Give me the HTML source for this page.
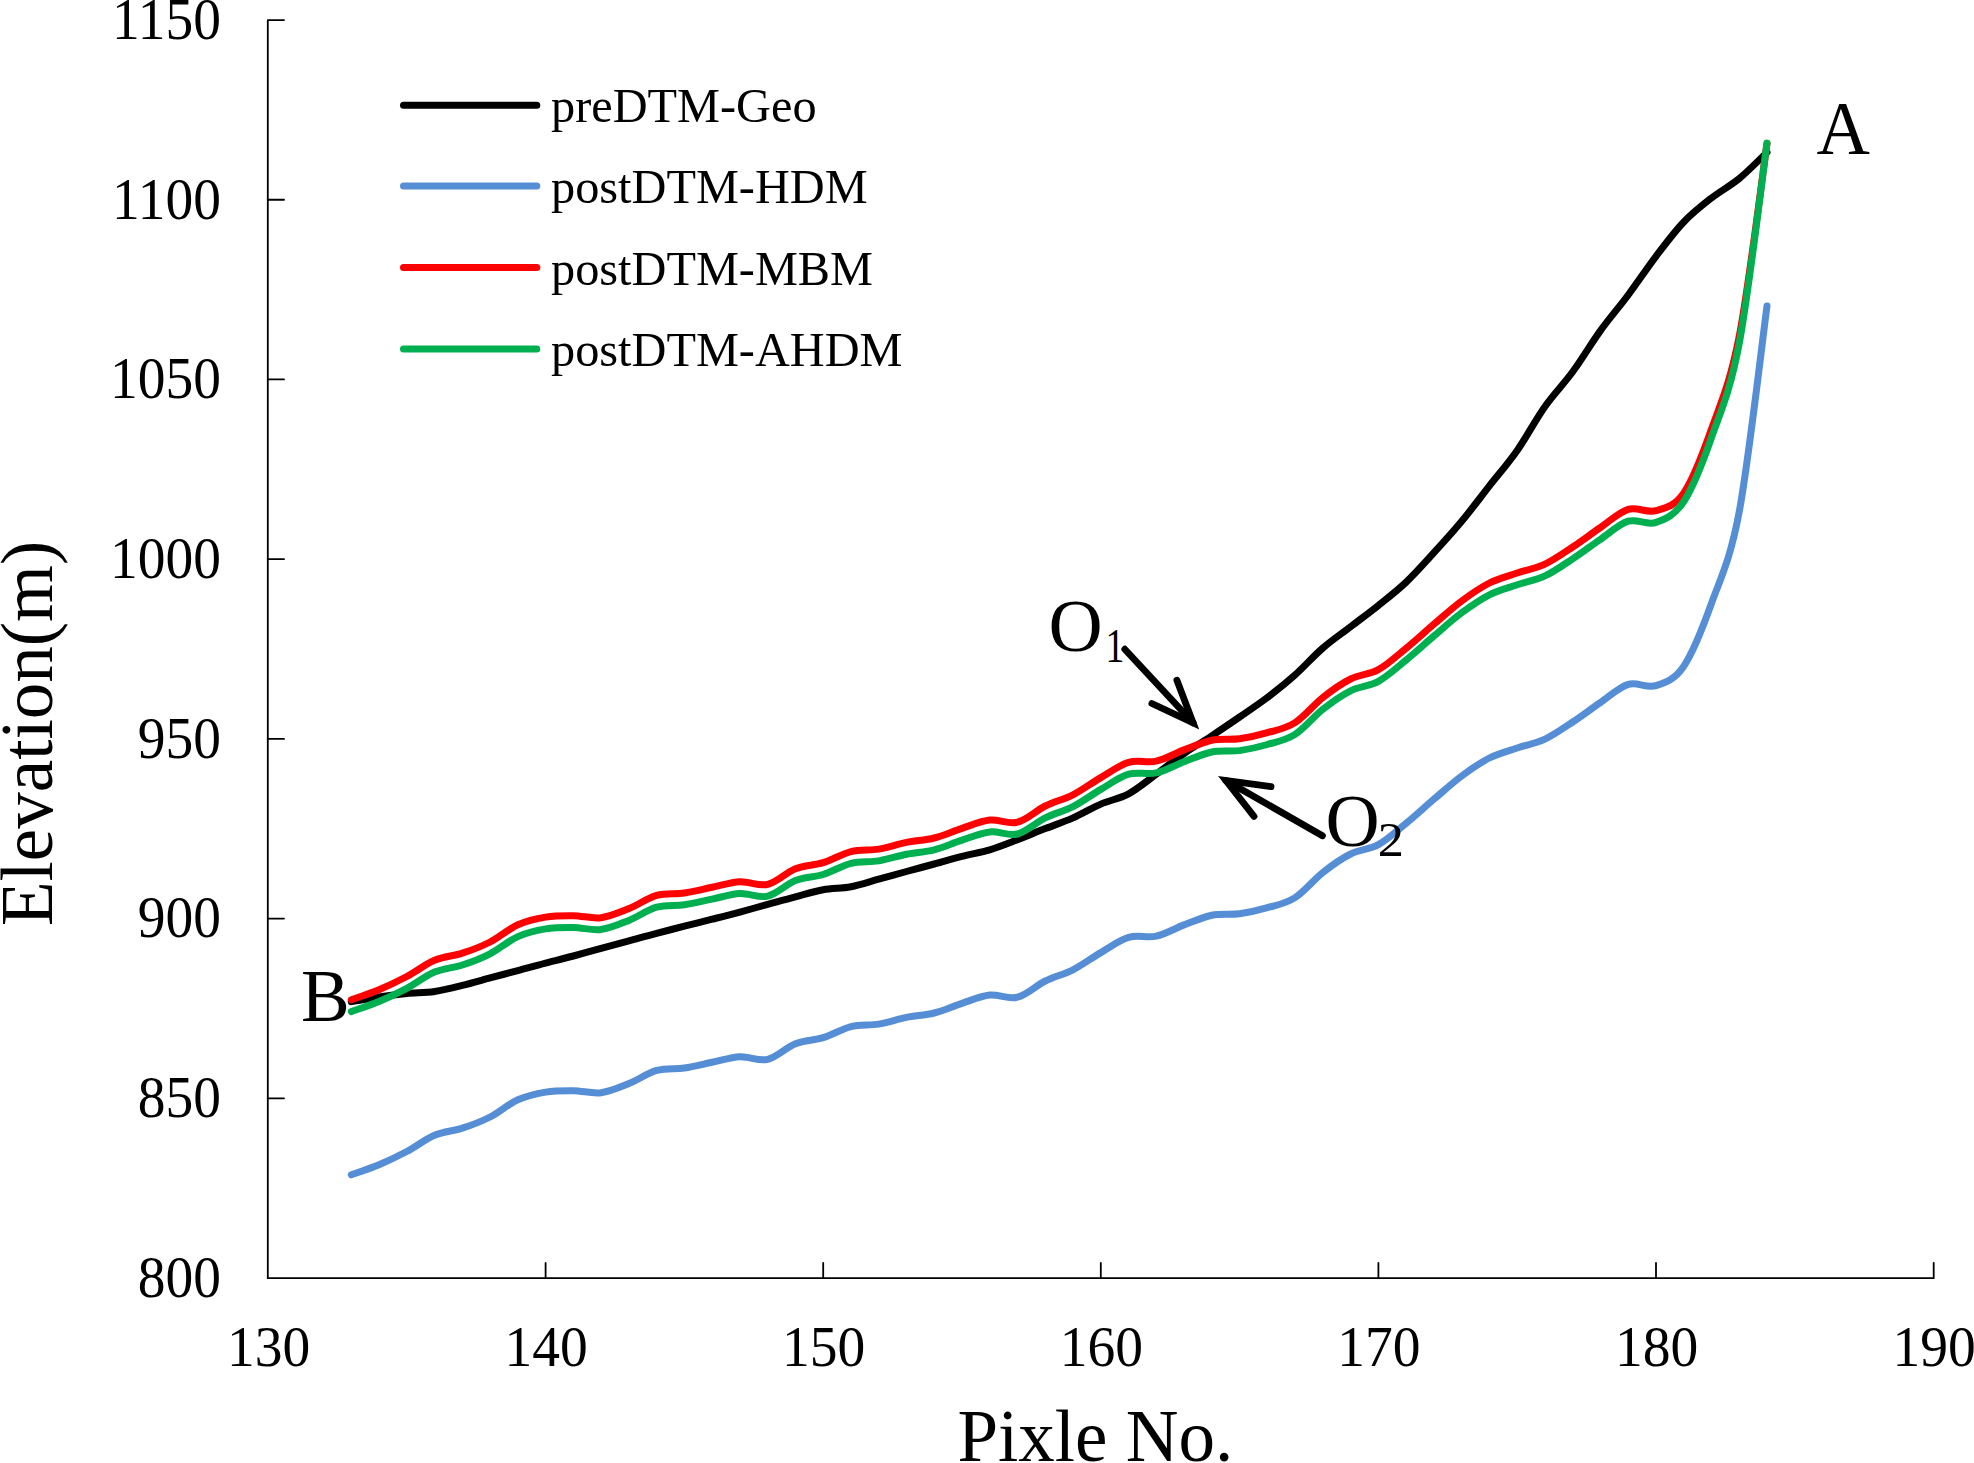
<!DOCTYPE html>
<html><head><meta charset="utf-8"><title>Elevation profile</title>
<style>
html,body{margin:0;padding:0;background:#fff}
svg{display:block}
text{font-family:"Liberation Serif",serif;fill:#000}
</style></head><body>
<svg width="1974" height="1463" viewBox="0 0 1974 1463">
<rect width="1974" height="1463" fill="#fff"/>
<g stroke="#000" stroke-width="1.8" fill="none" stroke-linejoin="round" stroke-linecap="round">
<path d="M284 20.06H267.8V1278.15H1933.7V1263"/>
<path d="M267.8 199.77H284"/>
<path d="M267.8 379.47H284"/>
<path d="M267.8 559.18H284"/>
<path d="M267.8 738.88H284"/>
<path d="M267.8 918.59H284"/>
<path d="M267.8 1098.29H284"/>
<path d="M545.6 1263V1277.6"/>
<path d="M823.2 1263V1277.6"/>
<path d="M1100.8 1263V1277.6"/>
<path d="M1378.4 1263V1277.6"/>
<path d="M1656.0 1263V1277.6"/>
</g>
<g font-size="55.5" text-anchor="end">
<text transform="translate(221,38.8) scale(1,1.055)">1150</text>
<text transform="translate(221,218.5) scale(1,1.055)">1100</text>
<text transform="translate(221,398.2) scale(1,1.055)">1050</text>
<text transform="translate(221,577.9) scale(1,1.055)">1000</text>
<text transform="translate(221,757.6) scale(1,1.055)">950</text>
<text transform="translate(221,937.3) scale(1,1.055)">900</text>
<text transform="translate(221,1117.0) scale(1,1.055)">850</text>
<text transform="translate(221,1296.7) scale(1,1.055)">800</text>
</g>
<g font-size="55.5" text-anchor="middle">
<text transform="translate(268.5,1366.2) scale(1,1.04)">130</text>
<text transform="translate(546.1,1366.2) scale(1,1.04)">140</text>
<text transform="translate(823.7,1366.2) scale(1,1.04)">150</text>
<text transform="translate(1101.3,1366.2) scale(1,1.04)">160</text>
<text transform="translate(1378.9,1366.2) scale(1,1.04)">170</text>
<text transform="translate(1656.5,1366.2) scale(1,1.04)">180</text>
<text transform="translate(1934.1,1366.2) scale(1,1.04)">190</text>
</g>
<text x="1095.3" y="1460.6" font-size="73" text-anchor="middle">Pixle No.</text>
<text transform="translate(52,733.4) rotate(-90) scale(0.987,1)" font-size="74" text-anchor="middle">Elevation(m)</text>
<g stroke-width="7" stroke-linecap="round" fill="none">
<path d="M403.5 105.2H536.8" stroke="#000"/>
<path d="M403.5 186.1H536.8" stroke="#558ED5"/>
<path d="M403.5 267.4H536.8" stroke="#FF0000"/>
<path d="M403.5 349.1H536.8" stroke="#00B050"/>
</g>
<g font-size="48.3">
<text x="551" y="121.8">preDTM-Geo</text>
<text x="551" y="203.3">postDTM-HDM</text>
<text x="551" y="284.7">postDTM-MBM</text>
<text x="551" y="366.4">postDTM-AHDM</text>
</g>
<g stroke-width="7" stroke-linecap="round" stroke-linejoin="round" fill="none">
<path d="M351.3 1001.6C355.9 1000.8 369.8 998.4 379.0 997.0C388.3 995.6 397.5 994.4 406.8 993.5C416.1 992.6 425.3 992.9 434.6 991.5C443.8 990.1 453.1 987.7 462.3 985.4C471.6 983.1 480.8 980.4 490.1 977.9C499.3 975.4 508.6 973.1 517.8 970.6C527.1 968.1 536.3 965.5 545.6 963.1C554.9 960.7 564.1 958.5 573.4 956.0C582.6 953.5 591.9 950.8 601.1 948.3C610.4 945.8 619.6 943.3 628.9 940.8C638.1 938.3 647.4 935.7 656.6 933.3C665.9 930.9 675.1 928.6 684.4 926.2C693.7 923.9 702.9 921.6 712.2 919.2C721.4 916.9 730.7 914.6 739.9 912.1C749.2 909.6 758.4 906.9 767.7 904.4C776.9 901.9 786.2 899.3 795.4 896.9C804.7 894.5 813.9 891.5 823.2 889.8C832.5 888.1 841.7 888.5 851.0 886.7C860.2 884.9 869.5 881.7 878.7 879.2C888.0 876.7 897.2 874.0 906.5 871.5C915.7 869.0 925.0 866.5 934.2 864.0C943.5 861.5 952.7 858.6 962.0 856.3C971.3 853.9 980.5 852.6 989.8 849.9C999.0 847.1 1008.3 843.3 1017.5 839.8C1026.8 836.2 1036.0 832.2 1045.3 828.6C1054.5 825.0 1063.8 822.0 1073.0 817.9C1082.3 813.8 1091.5 808.1 1100.8 804.1C1110.1 800.1 1119.3 798.8 1128.6 793.8C1137.8 788.8 1147.1 780.9 1156.3 774.2C1165.6 767.5 1174.8 759.9 1184.1 753.5C1193.3 747.1 1202.6 741.9 1211.8 735.8C1221.1 729.7 1230.3 723.4 1239.6 717.0C1248.9 710.6 1258.1 704.5 1267.4 697.5C1276.6 690.5 1285.9 683.1 1295.1 674.9C1304.4 666.6 1313.6 656.0 1322.9 648.0C1332.1 640.0 1341.4 633.8 1350.6 626.7C1359.9 619.6 1369.1 612.8 1378.4 605.4C1387.7 598.0 1396.9 590.9 1406.2 582.1C1415.4 573.3 1424.7 562.8 1433.9 552.7C1443.2 542.6 1452.4 532.4 1461.7 521.3C1470.9 510.2 1480.2 497.7 1489.4 485.9C1498.7 474.1 1507.9 463.6 1517.2 450.4C1526.5 437.2 1535.7 419.6 1545.0 406.5C1554.2 393.4 1563.5 384.4 1572.7 371.8C1582.0 359.2 1591.2 343.4 1600.5 330.6C1609.7 317.8 1619.0 307.4 1628.2 295.0C1637.5 282.6 1646.7 268.5 1656.0 256.3C1665.3 244.1 1674.5 231.7 1683.8 222.0C1693.0 212.3 1702.3 205.2 1711.5 198.0C1720.8 190.8 1730.0 186.1 1739.3 178.5C1748.5 170.9 1762.4 156.7 1767.0 152.3" stroke="#000"/>
<path d="M351.3 1174.8C355.9 1173.1 369.8 1168.6 379.0 1164.7C388.3 1160.8 397.5 1156.4 406.8 1151.5C416.1 1146.6 425.3 1139.2 434.6 1135.3C443.8 1131.4 453.1 1131.2 462.3 1128.2C471.6 1125.2 480.8 1121.7 490.1 1117.0C499.3 1112.3 508.6 1104.0 517.8 1099.8C527.1 1095.6 536.3 1093.6 545.6 1092.1C554.9 1090.6 564.1 1090.6 573.4 1090.7C582.6 1090.8 591.9 1093.9 601.1 1092.7C610.4 1091.5 619.6 1087.3 628.9 1083.6C638.1 1079.9 647.4 1073.0 656.6 1070.4C665.9 1067.8 675.1 1069.3 684.4 1068.0C693.7 1066.7 702.9 1064.2 712.2 1062.3C721.4 1060.4 730.7 1057.2 739.9 1056.7C749.2 1056.2 758.4 1061.6 767.7 1059.4C776.9 1057.2 786.2 1047.4 795.4 1043.8C804.7 1040.2 813.9 1040.6 823.2 1037.7C832.5 1034.8 841.7 1028.9 851.0 1026.6C860.2 1024.3 869.5 1025.6 878.7 1024.1C888.0 1022.6 897.2 1019.2 906.5 1017.4C915.7 1015.5 925.0 1015.4 934.2 1013.0C943.5 1010.6 952.7 1006.3 962.0 1003.3C971.3 1000.3 980.5 996.1 989.8 995.1C999.0 994.1 1008.3 999.6 1017.5 997.2C1026.8 994.9 1036.0 985.6 1045.3 981.0C1054.5 976.4 1063.8 974.5 1073.0 969.8C1082.3 965.1 1091.5 958.0 1100.8 952.6C1110.1 947.2 1119.3 940.1 1128.6 937.4C1137.8 934.6 1147.1 938.2 1156.3 936.1C1165.6 934.0 1174.8 928.4 1184.1 924.9C1193.3 921.4 1202.6 917.1 1211.8 915.2C1221.1 913.4 1230.3 915.0 1239.6 913.8C1248.9 912.5 1258.1 910.4 1267.4 907.7C1276.6 905.0 1285.9 903.5 1295.1 897.6C1304.4 891.7 1313.6 879.8 1322.9 872.5C1332.1 865.2 1341.4 858.6 1350.6 854.0C1359.9 849.4 1369.1 849.7 1378.4 844.6C1387.7 839.5 1396.9 830.8 1406.2 823.2C1415.4 815.6 1424.7 807.1 1433.9 799.2C1443.2 791.3 1452.4 782.9 1461.7 776.0C1470.9 769.1 1480.2 762.7 1489.4 758.0C1498.7 753.3 1507.9 751.1 1517.2 748.0C1526.5 744.9 1535.7 743.4 1545.0 739.1C1554.2 734.8 1563.5 728.1 1572.7 722.0C1582.0 715.9 1591.2 708.8 1600.5 702.5C1609.7 696.2 1619.0 687.2 1628.2 684.4C1637.5 681.6 1646.7 688.6 1656.0 685.6C1665.3 682.6 1674.5 679.9 1683.8 666.2C1693.0 652.5 1702.3 629.1 1711.5 603.3C1720.8 577.5 1730.0 560.9 1739.3 511.4C1748.5 461.8 1762.4 340.2 1767.0 306.0" stroke="#558ED5"/>
<path d="M351.3 999.8C355.9 998.1 369.8 993.6 379.0 989.7C388.3 985.8 397.5 981.4 406.8 976.5C416.1 971.6 425.3 964.2 434.6 960.3C443.8 956.4 453.1 956.2 462.3 953.2C471.6 950.2 480.8 946.7 490.1 942.0C499.3 937.3 508.6 928.9 517.8 924.8C527.1 920.6 536.3 918.6 545.6 917.1C554.9 915.6 564.1 915.6 573.4 915.7C582.6 915.8 591.9 918.9 601.1 917.7C610.4 916.5 619.6 912.3 628.9 908.6C638.1 904.9 647.4 898.0 656.6 895.4C665.9 892.8 675.1 894.4 684.4 893.0C693.7 891.6 702.9 889.2 712.2 887.3C721.4 885.4 730.7 882.2 739.9 881.7C749.2 881.2 758.4 886.6 767.7 884.4C776.9 882.3 786.2 872.4 795.4 868.8C804.7 865.2 813.9 865.6 823.2 862.7C832.5 859.8 841.7 853.9 851.0 851.6C860.2 849.3 869.5 850.6 878.7 849.1C888.0 847.6 897.2 844.2 906.5 842.4C915.7 840.5 925.0 840.4 934.2 838.0C943.5 835.6 952.7 831.3 962.0 828.3C971.3 825.3 980.5 821.1 989.8 820.1C999.0 819.1 1008.3 824.6 1017.5 822.2C1026.8 819.9 1036.0 810.6 1045.3 806.0C1054.5 801.4 1063.8 799.5 1073.0 794.8C1082.3 790.1 1091.5 783.0 1100.8 777.6C1110.1 772.2 1119.3 765.1 1128.6 762.4C1137.8 759.6 1147.1 763.2 1156.3 761.1C1165.6 759.0 1174.8 753.4 1184.1 749.9C1193.3 746.4 1202.6 742.1 1211.8 740.2C1221.1 738.4 1230.3 740.0 1239.6 738.8C1248.9 737.5 1258.1 735.4 1267.4 732.7C1276.6 730.0 1285.9 728.5 1295.1 722.6C1304.4 716.7 1313.6 704.8 1322.9 697.5C1332.1 690.2 1341.4 683.6 1350.6 679.0C1359.9 674.4 1369.1 674.7 1378.4 669.6C1387.7 664.5 1396.9 655.8 1406.2 648.2C1415.4 640.6 1424.7 632.1 1433.9 624.2C1443.2 616.3 1452.4 607.9 1461.7 601.0C1470.9 594.1 1480.2 587.7 1489.4 583.0C1498.7 578.3 1507.9 576.1 1517.2 573.0C1526.5 569.9 1535.7 568.4 1545.0 564.1C1554.2 559.8 1563.5 553.1 1572.7 547.0C1582.0 540.9 1591.2 533.8 1600.5 527.5C1609.7 521.2 1619.0 512.2 1628.2 509.4C1637.5 506.6 1646.7 513.3 1656.0 510.6C1665.3 507.9 1674.5 506.6 1683.8 493.0C1693.0 479.4 1702.3 455.2 1711.5 429.0C1720.8 402.8 1730.0 383.6 1739.3 336.0C1748.5 288.4 1762.4 175.6 1767.0 143.5" stroke="#FF0000"/>
<path d="M351.3 1011.6C355.9 1009.9 369.8 1005.4 379.0 1001.5C388.3 997.6 397.5 993.2 406.8 988.3C416.1 983.4 425.3 976.0 434.6 972.1C443.8 968.2 453.1 968.0 462.3 965.0C471.6 962.0 480.8 958.5 490.1 953.8C499.3 949.1 508.6 940.7 517.8 936.6C527.1 932.4 536.3 930.4 545.6 928.9C554.9 927.4 564.1 927.4 573.4 927.5C582.6 927.6 591.9 930.7 601.1 929.5C610.4 928.3 619.6 924.1 628.9 920.4C638.1 916.7 647.4 909.8 656.6 907.2C665.9 904.6 675.1 906.1 684.4 904.8C693.7 903.4 702.9 901.0 712.2 899.1C721.4 897.2 730.7 894.0 739.9 893.5C749.2 893.0 758.4 898.4 767.7 896.2C776.9 894.1 786.2 884.2 795.4 880.6C804.7 877.0 813.9 877.4 823.2 874.5C832.5 871.6 841.7 865.7 851.0 863.4C860.2 861.1 869.5 862.4 878.7 860.9C888.0 859.4 897.2 856.1 906.5 854.2C915.7 852.4 925.0 852.1 934.2 849.8C943.5 847.4 952.7 843.1 962.0 840.1C971.3 837.1 980.5 832.9 989.8 831.9C999.0 830.9 1008.3 836.4 1017.5 834.0C1026.8 831.6 1036.0 822.4 1045.3 817.8C1054.5 813.2 1063.8 811.3 1073.0 806.6C1082.3 801.9 1091.5 794.8 1100.8 789.4C1110.1 784.0 1119.3 777.0 1128.6 774.2C1137.8 771.5 1147.1 775.0 1156.3 772.9C1165.6 770.8 1174.8 765.2 1184.1 761.7C1193.3 758.2 1202.6 753.9 1211.8 752.0C1221.1 750.1 1230.3 751.8 1239.6 750.6C1248.9 749.3 1258.1 747.2 1267.4 744.5C1276.6 741.8 1285.9 740.3 1295.1 734.4C1304.4 728.5 1313.6 716.6 1322.9 709.3C1332.1 702.0 1341.4 695.4 1350.6 690.8C1359.9 686.1 1369.1 686.5 1378.4 681.4C1387.7 676.3 1396.9 667.6 1406.2 660.0C1415.4 652.4 1424.7 643.9 1433.9 636.0C1443.2 628.1 1452.4 619.7 1461.7 612.8C1470.9 605.9 1480.2 599.5 1489.4 594.8C1498.7 590.1 1507.9 587.9 1517.2 584.8C1526.5 581.6 1535.7 580.2 1545.0 575.9C1554.2 571.6 1563.5 564.9 1572.7 558.8C1582.0 552.7 1591.2 545.6 1600.5 539.3C1609.7 533.0 1619.0 524.0 1628.2 521.2C1637.5 518.4 1646.7 525.7 1656.0 522.4C1665.3 519.1 1674.5 515.6 1683.8 501.5C1693.0 487.3 1702.3 463.9 1711.5 437.5C1720.8 411.1 1730.0 392.1 1739.3 343.0C1748.5 293.9 1762.4 176.4 1767.0 143.1" stroke="#00B050"/>
</g>
<text transform="translate(1816.4,154.2) scale(1,1.035)" font-size="74">A</text>
<text x="301" y="1020.9" font-size="73">B</text>
<text x="1048.6" y="651.3" font-size="75">O</text>
<text transform="translate(1115,661.6) scale(0.78,1.02)" font-size="48.5" text-anchor="middle">1</text>
<text x="1325.4" y="845.8" font-size="75">O</text>
<text transform="translate(1390.8,856.1) scale(1.08,1.0)" font-size="48.5" text-anchor="middle">2</text>
<g stroke="#000" stroke-width="6.8" stroke-linecap="round" stroke-linejoin="miter" stroke-miterlimit="10" fill="none">
<path d="M1124.8 649.2L1193.1 722.8"/><path d="M1176.9 680.3L1193.1 722.8L1151.9 703.5"/>
<path d="M1322.4 835.8L1225.9 780.5"/><path d="M1254.0 816.3L1225.9 780.5L1271.0 786.7"/>
</g>
</svg></body></html>
